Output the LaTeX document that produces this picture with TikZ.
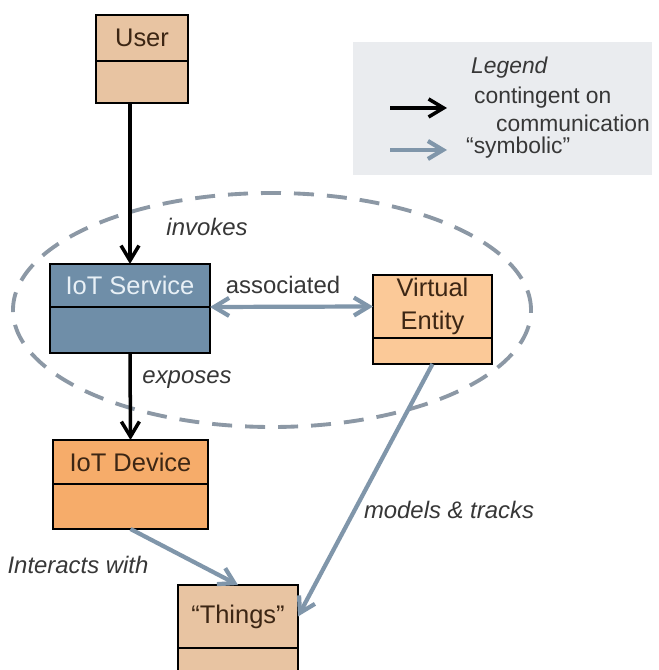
\documentclass[tikz,border=0pt]{standalone}
\usepackage{fontspec}
\setmainfont{Liberation Sans}
\usetikzlibrary{arrows.meta,positioning}

\definecolor{tanbox}{RGB}{232,196,162}
\definecolor{svcblue}{RGB}{111,142,168}
\definecolor{veorange}{RGB}{251,201,152}
\definecolor{devorange}{RGB}{246,172,106}
\definecolor{symgray}{RGB}{128,150,170}
\definecolor{ringgray}{RGB}{140,152,165}
\definecolor{legendgray}{RGB}{234,236,239}
\definecolor{textbrown}{RGB}{60,38,20}
\definecolor{labelgray}{RGB}{55,55,55}

\tikzset{
    classbox/.style={draw=black, line width=1.2pt, outer sep=0pt, inner sep=0pt,
        text=textbrown, font=\fontsize{14.5}{19}\selectfont, align=center},
    lowbox/.style={classbox, line width=1.2pt},
    contarrow/.style={draw=black, line width=2pt, -{Straight Barb[length=3mm,width=3.6mm]}},
    symarrow/.style={draw=symgray, line width=2.4pt, -{Straight Barb[length=3mm,width=3.6mm]}},
    edgelabel/.style={text=labelgray, font=\fontsize{13.6}{17}\selectfont\itshape},
    legendtext/.style={text=labelgray, font=\fontsize{13}{16}\selectfont, anchor=west}
}

\begin{document}
\begin{tikzpicture}
    \clip (0,0) rectangle (13.16,13.4);
    \fill[white] (0,0) rectangle (13.16,13.4);

    % legend
    \fill[legendgray] (7.06,9.9) rectangle (13.04,12.56);
    \node[legendtext, font=\fontsize{13}{16}\selectfont\itshape] (legtitle) at (9.3,12.04) {Legend};
    \node[legendtext] (legcont) at (9.36,11.44) {contingent on};
    \node[legendtext] (legcomm) at (9.8,10.94) {communication};
    \node[legendtext] (legsym) at (9.2,10.44) {“symbolic”};
    \coordinate (legA1) at (7.8,11.24);
    \coordinate (legA2) at (8.94,11.24);
    \coordinate (legB1) at (7.8,10.4);
    \coordinate (legB2) at (8.94,10.4);
    \draw[contarrow] (legA1) -- (legA2);
    \draw[symarrow] (legB1) -- (legB2);

    % boxes
    \node[classbox, fill=tanbox, minimum width=1.84cm, minimum height=0.92cm] (user) at (2.84,12.64) {User};
    \node[lowbox, fill=tanbox, minimum width=1.84cm, minimum height=0.84cm, below=0pt of user] (userlow) {};

    \node[classbox, fill=svcblue, text={rgb,255:red,232;green,240;blue,246}, minimum width=3.2cm, minimum height=0.86cm] (svc) at (2.6,7.69) {IoT Service};
    \node[lowbox, fill=svcblue, minimum width=3.2cm, minimum height=0.92cm, below=0pt of svc] (svclow) {};

    \node[classbox, fill=veorange, minimum width=2.38cm, minimum height=1.26cm] (ve) at (8.65,7.27) {Virtual\\Entity};
    \node[lowbox, fill=veorange, minimum width=2.38cm, minimum height=0.52cm, below=0pt of ve] (velow) {};

    \node[classbox, fill=devorange, minimum width=3.1cm, minimum height=0.88cm] (dev) at (2.61,4.16) {IoT Device};
    \node[lowbox, fill=devorange, minimum width=3.1cm, minimum height=0.9cm, below=0pt of dev] (devlow) {};

    \node[classbox, fill=tanbox, minimum width=2.4cm, minimum height=1.26cm] (things) at (4.76,1.07) {“Things”};
    \node[lowbox, fill=tanbox, minimum width=2.4cm, minimum height=0.9cm, below=0pt of things] (thingslow) {};

    % dashed ring
    \draw[ringgray, line width=2.2pt, dash pattern=on 0.4cm off 0.26cm] (5.44,7.2) ellipse (5.18cm and 2.34cm);

    % connectors
    \draw[contarrow] (svc.north |- userlow.south) -- (svc.north);
    \draw[contarrow] (svclow.south) -- (dev.north);
    \draw[symarrow, {Straight Barb[length=3mm,width=3.6mm]}-{Straight Barb[length=3mm,width=3.6mm]}] (svc.south east) -- (ve.west);
    \draw[symarrow] (devlow.south) -- (things.north);
    \draw[symarrow] (velow.south) -- (things.east);

    % labels
    \node[edgelabel] (invokes) at (4.14,8.86) {invokes};
    \node[edgelabel, font=\fontsize{13.6}{17}\selectfont] (assoc) at (5.66,7.7) {associated};
    \node[edgelabel] (exposes) at (3.74,5.8) {exposes};
    \node[edgelabel] (interacts) at (1.56,2.1) {Interacts with};
    \node[edgelabel] (models) at (8.98,3.2) {models \& tracks};
\end{tikzpicture}
\end{document}
